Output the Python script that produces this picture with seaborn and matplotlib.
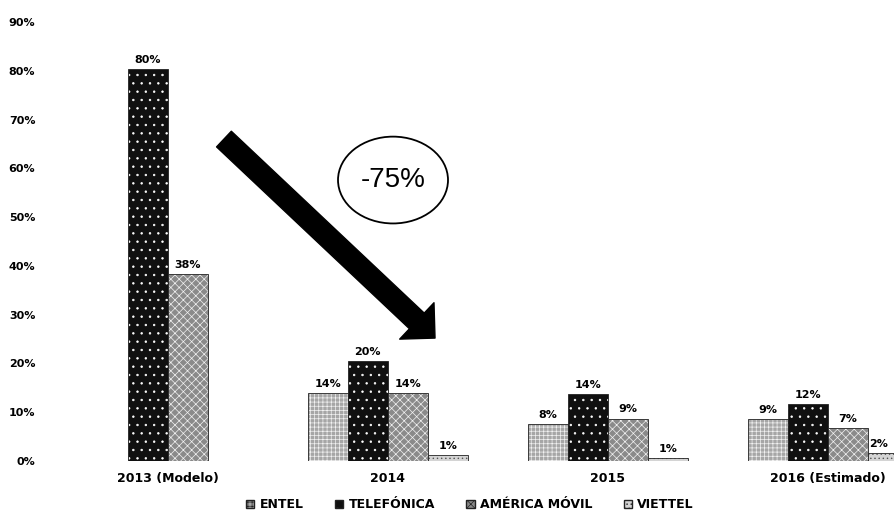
import numpy as np
import pandas as pd
import matplotlib
matplotlib.use('Agg')
import matplotlib.pyplot as plt
import seaborn as sns
from matplotlib.patches import Ellipse, FancyArrowPatch, Patch
from matplotlib.colors import to_rgba

# Datos
years = ['2013 (Modelo)', '2014', '2015', '2016 (Estimado)']
operators = ['ENTEL', 'TELEFÓNICA', 'AMÉRICA MÓVIL', 'VIETTEL']
entel = [np.nan, 14.0, 7.6, 8.6]
telefonica = [80.4, 20.4, 13.8, 11.6]
america_movil = [38.4, 14.0, 8.7, 6.8]
viettel = [np.nan, 1.2, 0.6, 1.6]

face_colors = ['#a6a6a6', '#101010', '#8a8a8a', '#d4d4d4']
hatch_colors = ['#f2f2f2', '#ffffff', '#f2f2f2', '#555555']
hatches = ['++++', '..', 'xxxx', '....']

df = pd.DataFrame({
    'year': years * 4,
    'operator': [op for op in operators for _ in years],
    'value': entel + telefonica + america_movil + viettel,
}).dropna()

sns.set_style('white')
plt.rcParams['font.family'] = ['DejaVu Sans']
plt.rcParams['hatch.linewidth'] = 0.5
plt.rcParams['text.color'] = 'black'
plt.rcParams['xtick.color'] = 'black'
plt.rcParams['ytick.color'] = 'black'

fig = plt.figure(figsize=(8.95, 5.22), dpi=100)
ax = fig.add_axes([45 / 895, 1 - 461 / 522, 850 / 895, 439 / 522])

sns.barplot(data=df, x='year', y='value', hue='operator', order=years,
            hue_order=operators, palette=face_colors, saturation=1,
            width=0.73, errorbar=None, legend=False, ax=ax)

# Tramas y etiquetas
for cont, fc, hc, h in zip(ax.containers, face_colors, hatch_colors, hatches):
    for bar in cont:
        bar.set_facecolor(fc)
        bar.set_edgecolor('#222222')
        bar.set_linewidth(0.6)
        bar.set_hatch(h)
        try:
            bar.set_hatchcolor(hc)
        except AttributeError:
            bar._hatch_color = to_rgba(hc)
    labels = ax.bar_label(cont, fmt='{:.0f}%', padding=3, fontsize=8,
                          fontweight='bold', color='black')
# la última etiqueta queda en el borde: alinearla a la derecha
labels[-1].set_ha('right')
labels[-1].set_x(labels[-1].get_position()[0])

ax.set_ylim(0, 90)
ax.set_xlim(-0.559, 3.305)
ax.set_yticks(range(0, 91, 10))
ax.yaxis.set_major_formatter(lambda v, p: f'{v:.0f}%')
ax.set_xlabel('')
ax.set_ylabel('')
ax.tick_params(axis='y', length=0, pad=7, labelsize=8)
ax.tick_params(axis='x', length=0, pad=8, labelsize=9)
for lab in ax.get_xticklabels() + ax.get_yticklabels():
    lab.set_fontweight('bold')
sns.despine(ax=ax, left=True, bottom=True)

# Flecha y elipse
arrow = FancyArrowPatch((0.2545, 66.0), (1.214, 25.2),
                        arrowstyle='simple,head_width=36,head_length=18,tail_width=15.5',
                        mutation_scale=1, color='black', shrinkA=0, shrinkB=0)
ax.add_patch(arrow)
ax.add_patch(Ellipse((1.023, 57.6), 0.5, 17.8, facecolor='white',
                     edgecolor='black', lw=1.3))
ax.text(1.023, 57.6, '-75%', ha='center', va='center', fontsize=20,
        family='Liberation Sans')

# Leyenda
handles = [Patch(facecolor=fc, edgecolor='#222222', hatch=h)
           for fc, h in zip(face_colors, hatches)]
fig.legend(handles, operators, loc='center', bbox_to_anchor=(0.525, 0.033),
           ncol=4, frameon=False, handlelength=0.7, handleheight=0.7,
           columnspacing=2.5, handletextpad=0.4,
           prop=dict(weight='bold', size=9))

plt.savefig('out.png', dpi=100)
plt.close()
